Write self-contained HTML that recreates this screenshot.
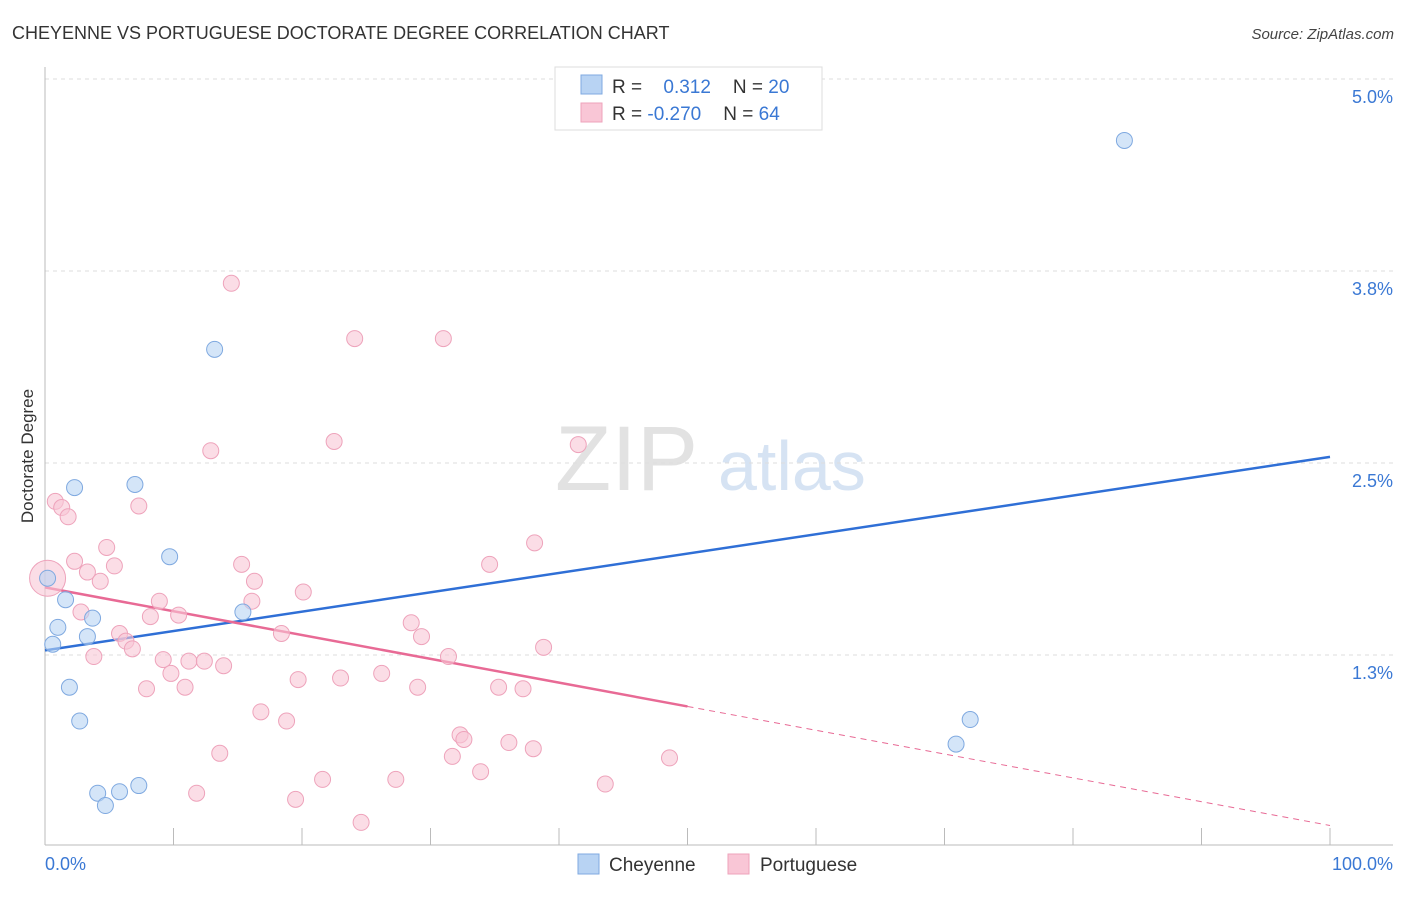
<!DOCTYPE html>
<html><head><meta charset="utf-8"><style>
body{margin:0;background:#fff;font-family:"Liberation Sans",sans-serif;}
svg text{font-family:"Liberation Sans",sans-serif;}
</style></head><body>
<svg id="chart" width="1406" height="892" xmlns="http://www.w3.org/2000/svg">
<text x="12" y="39" font-size="18" fill="#333">CHEYENNE VS PORTUGUESE DOCTORATE DEGREE CORRELATION CHART</text>
<text x="1394" y="39" font-size="15" fill="#444" text-anchor="end" font-style="italic">Source: ZipAtlas.com</text>
<g>
<text x="555" y="490" font-size="92" fill="#d6d6d6" font-family="Liberation Serif" opacity="0.7">ZIP</text>
<text x="718" y="490" font-size="70" fill="#c5d8ef" opacity="0.7">atlas</text>
</g>
<g id="grid"></g>
<g id="axes"></g>
<g id="lines"></g>
<g id="points"></g>
<text transform="translate(33,456) rotate(-90)" font-size="17" fill="#333" text-anchor="middle">Doctorate Degree</text>
<text x="45" y="870" font-size="18" fill="#3a78d4">0.0%</text>
<text x="1393" y="870" font-size="18" fill="#3a78d4" text-anchor="end">100.0%</text>
<g>
<rect x="555" y="67" width="267" height="63" fill="#fff" stroke="#ddd"/>
<rect x="581" y="75" width="21" height="19" fill="#b8d3f3" stroke="#7fa9e0"/>
<rect x="581" y="103" width="21" height="19" fill="#f9c6d6" stroke="#eea3bb"/>
<text x="612" y="93" font-size="19" fill="#333">R = <tspan fill="#3a78d4" dx="16">0.312</tspan><tspan dx="22" fill="#333">N = </tspan><tspan fill="#3a78d4">20</tspan></text>
<text x="612" y="120" font-size="19" fill="#333">R = <tspan fill="#3a78d4">-0.270</tspan><tspan dx="22" fill="#333">N = </tspan><tspan fill="#3a78d4">64</tspan></text>
</g>
<g>
<rect x="578" y="854" width="21" height="20" fill="#b8d3f3" stroke="#7fa9e0"/>
<text x="609" y="871" font-size="19" fill="#333">Cheyenne</text>
<rect x="728" y="854" width="21" height="20" fill="#f9c6d6" stroke="#eea3bb"/>
<text x="760" y="871" font-size="19" fill="#333">Portuguese</text>
</g>
</svg>
<script>
const yTicks=[1.25,2.5,3.75,5.0];
const yTickLabels=["1.3%","2.5%","3.8%","5.0%"];
const xTicks=[0,10,20,30,40,50,60,70,80,90,100];
const cheyX=[2.3,7.0,13.2,9.7,1.6,1.0,3.3,3.7,0.6,1.9,2.7,4.1,4.7,5.8,7.3,15.4,84.0,72.0,70.9,0.2];
const cheyY=[2.34,2.36,3.24,1.89,1.61,1.43,1.37,1.49,1.32,1.04,0.82,0.35,0.27,0.36,0.40,1.53,4.60,0.83,0.67,1.75];
const portX=[14.5,24.1,31.0,12.9,22.5,41.5,0.8,1.3,1.8,7.3,38.1,4.8,2.3,34.6,5.4,15.3,3.3,4.3,16.3,20.1,8.9,16.1,2.8,8.2,10.4,28.5,29.3,18.4,5.8,6.3,6.8,38.8,3.8,9.2,11.2,12.4,31.4,13.9,9.8,26.2,19.7,23.0,10.9,7.9,29.0,35.3,37.2,16.8,18.8,32.3,32.6,36.1,38.0,13.6,31.7,48.6,33.9,21.6,27.3,43.6,11.8,19.5,24.6,0.2];
const portY=[3.67,3.31,3.31,2.58,2.64,2.62,2.25,2.21,2.15,2.22,1.98,1.95,1.86,1.84,1.83,1.84,1.79,1.73,1.73,1.66,1.60,1.60,1.53,1.50,1.51,1.46,1.37,1.39,1.39,1.34,1.29,1.30,1.24,1.22,1.21,1.21,1.24,1.18,1.13,1.13,1.09,1.10,1.04,1.03,1.04,1.04,1.03,0.88,0.82,0.73,0.70,0.68,0.64,0.61,0.59,0.58,0.49,0.44,0.44,0.41,0.35,0.31,0.16,1.75];
const portR=[8,8,8,8,8,8,8,8,8,8,8,8,8,8,8,8,8,8,8,8,8,8,8,8,8,8,8,8,8,8,8,8,8,8,8,8,8,8,8,8,8,8,8,8,8,8,8,8,8,8,8,8,8,8,8,8,8,8,8,8,8,8,8,18];
const cheyTrend=[1.28,2.54];
const portTrend=[1.69,0.14];
const X0=45,X1=1330,Y0=847,PXPER=153.6;
const sx=v=>X0+(X1-X0)*v/100;
const sy=v=>Y0-v*PXPER;
const NS="http://www.w3.org/2000/svg";
function mk(tag,attrs,parent){const e=document.createElementNS(NS,tag);for(const k in attrs)e.setAttribute(k,attrs[k]);document.getElementById(parent).appendChild(e);return e;}
yTicks.forEach((t,i)=>{
 const l=mk('line',{x1:45,x2:1393,y1:sy(t),y2:sy(t),stroke:'#ddd','stroke-dasharray':'4,4'},'grid');
 
 
 const tx=mk('text',{x:1393,y:sy(t)+24,'font-size':18,fill:'#3a78d4','text-anchor':'end'},'grid');
 tx.textContent=yTickLabels[i];
 
 
});
const ya=mk('line',{x1:45,x2:45,y1:67,y2:845,stroke:'#bbb'},'axes');


const xa=mk('line',{x1:45,x2:1393,y1:845,y2:845,stroke:'#bbb'},'axes');


xTicks.forEach(t=>{
 const l=mk('line',{x1:sx(t),x2:sx(t),y1:828,y2:845,stroke:'#bbb'},'axes');
 
 
});
function dot(x,y,r,fill,stroke){
 const c=mk('circle',{cx:sx(x),cy:sy(y),r:r,fill:fill,stroke:stroke,'stroke-width':1,'fill-opacity':0.6},'points');
 return c;
}
portX.forEach((x,i)=>{
 const c=dot(x,portY[i],portR[i],'#f9c6d6','#eea3bb');
 
 
});
cheyX.forEach((x,i)=>{
 const c=dot(x,cheyY[i],8,'#b8d3f3','#7fa9e0');
 
 
});
const bl=mk('line',{x1:sx(0),y1:sy(cheyTrend[0]),x2:sx(100),y2:sy(cheyTrend[1]),stroke:'#2f6fd6','stroke-width':2.5},'lines');


const pm=(portTrend[0]+portTrend[1])/2;
const pl=mk('line',{x1:sx(0),y1:sy(portTrend[0]),x2:sx(50),y2:sy(pm),stroke:'#e86a95','stroke-width':2.5},'lines');


const pd=mk('line',{x1:sx(50),y1:sy(pm),x2:sx(100),y2:sy(portTrend[1]),stroke:'#e86a95','stroke-width':1,'stroke-dasharray':'6,5'},'lines');


</script>
</body></html>
